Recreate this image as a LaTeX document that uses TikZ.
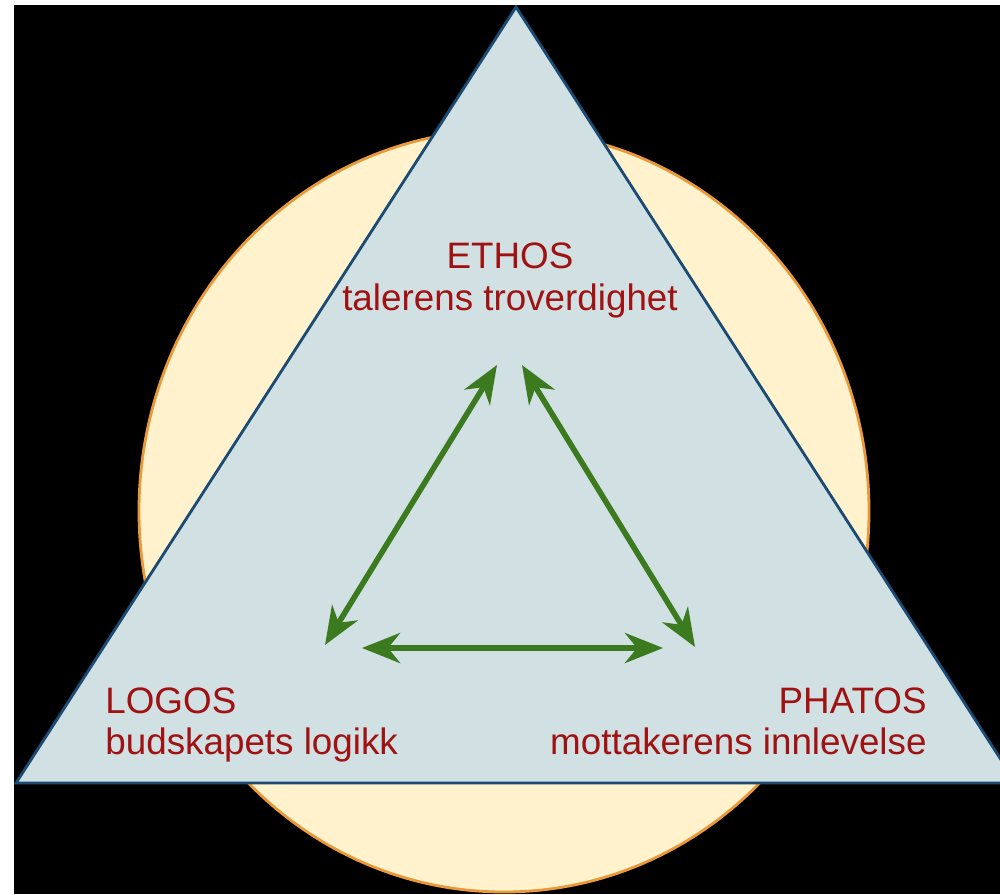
\documentclass[tikz,border=0pt]{standalone}
\usepackage{fontspec}
\setmainfont{Liberation Sans}
\usetikzlibrary{arrows.meta}
\definecolor{trifill}{HTML}{D0E0E3}
\definecolor{tristroke}{HTML}{1B4B74}
\definecolor{ellfill}{HTML}{FFF2CC}
\definecolor{ellstroke}{HTML}{E8993A}
\definecolor{labred}{HTML}{A01212}
\definecolor{arrgreen}{HTML}{3B7A1F}
\tikzset{
  lab/.style={text=labred, font=\fontsize{18.4pt}{21pt}\selectfont, inner sep=0pt, anchor=base},
  link/.style={draw=arrgreen, line width=2.8pt,
    {Stealth[length=19pt,width=15pt,inset=6pt]}-{Stealth[length=19pt,width=15pt,inset=6pt]}}
}
\begin{document}
\begin{tikzpicture}[x=0.5pt,y=-0.5pt]
\useasboundingbox (0,0) rectangle (1000,894);
\fill[white] (0,0) rectangle (1000,894);
\fill[black] (14,5) rectangle (1000,894);
\begin{scope}
\clip (14,5) rectangle (1000,894);
\draw[fill=ellfill, draw=ellstroke, line width=1.4pt] (504,511) ellipse [x radius=365, y radius=381];
\draw[fill=trifill, draw=tristroke, line width=1.4pt, line join=miter] (516,7) -- (1016,783) -- (16,783) -- cycle;
\end{scope}
\node[lab] (ethos) at (510,268) {ETHOS};
\node[lab] (ethosd) at (510,310) {talerens troverdighet};
\node[lab, anchor=base west] (logos) at (105,713) {LOGOS};
\node[lab, anchor=base west] (logosd) at (105,754) {budskapets logikk};
\node[lab, anchor=base east] (phatos) at (927,713) {PHATOS};
\node[lab, anchor=base east] (phatosd) at (927,754) {mottakerens innlevelse};
\coordinate (a1) at (325,645);
\coordinate (a2) at (497,365);
\coordinate (b1) at (522,365);
\coordinate (b2) at (695,647);
\coordinate (c1) at (362,648);
\coordinate (c2) at (663,648);
\draw[link] (a1) -- (a2);
\draw[link] (b1) -- (b2);
\draw[link] (c1) -- (c2);
\end{tikzpicture}
\end{document}
